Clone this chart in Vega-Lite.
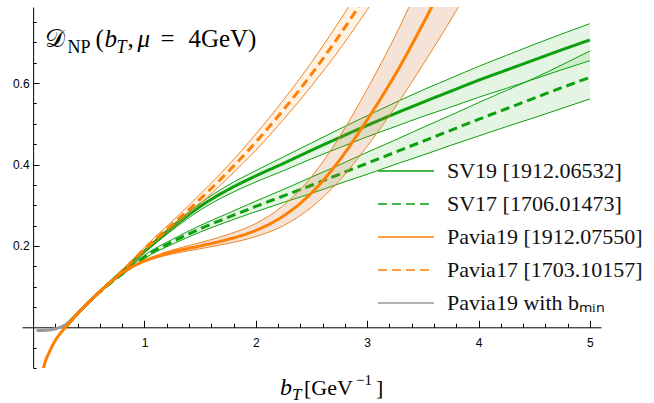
{
"$schema": "https://vega.github.io/schema/vega-lite/v6.json",
"width": 579, "height": 361,
"autosize": {"type": "none"},
"padding": {"left": 22, "top": 7, "right": 53, "bottom": 35},
"background": "white",
"config": {"view": {"stroke": null},
  "axis": {"grid": false, "domainColor": "#000", "tickColor": "#000", "labelFont": "Liberation Sans", "labelFontSize": 12, "labelColor": "#000", "labelFlush": false, "labelOverlap": false, "domainWidth": 1, "tickWidth": 1},
  "legend": {"labelFont": "Liberation Serif", "labelFontSize": 22, "labelColor": "#111", "labelLimit": 400}},
"resolve": {"axis": {"x": "independent", "y": "independent"}},
"datasets": {"curves": [
{"s":"SV19 [1912.06532]","x":0.3,"c":0.003,"lo":0.002,"hi":0.004},
{"s":"SV19 [1912.06532]","x":0.4,"c":0.034,"lo":0.033,"hi":0.035},
{"s":"SV19 [1912.06532]","x":0.5,"c":0.062,"lo":0.061,"hi":0.063},
{"s":"SV19 [1912.06532]","x":0.6,"c":0.088,"lo":0.087,"hi":0.089},
{"s":"SV19 [1912.06532]","x":0.7,"c":0.113,"lo":0.112,"hi":0.114},
{"s":"SV19 [1912.06532]","x":0.8,"c":0.138,"lo":0.136,"hi":0.14},
{"s":"SV19 [1912.06532]","x":0.9,"c":0.162,"lo":0.159,"hi":0.165},
{"s":"SV19 [1912.06532]","x":1,"c":0.187,"lo":0.183,"hi":0.191},
{"s":"SV19 [1912.06532]","x":1.25,"c":0.245,"lo":0.239,"hi":0.251},
{"s":"SV19 [1912.06532]","x":1.5,"c":0.297,"lo":0.288,"hi":0.305},
{"s":"SV19 [1912.06532]","x":1.75,"c":0.338,"lo":0.326,"hi":0.349},
{"s":"SV19 [1912.06532]","x":2,"c":0.372,"lo":0.357,"hi":0.385},
{"s":"SV19 [1912.06532]","x":2.25,"c":0.403,"lo":0.385,"hi":0.419},
{"s":"SV19 [1912.06532]","x":2.5,"c":0.435,"lo":0.414,"hi":0.453},
{"s":"SV19 [1912.06532]","x":2.75,"c":0.466,"lo":0.441,"hi":0.487},
{"s":"SV19 [1912.06532]","x":3,"c":0.496,"lo":0.468,"hi":0.52},
{"s":"SV19 [1912.06532]","x":3.25,"c":0.525,"lo":0.493,"hi":0.552},
{"s":"SV19 [1912.06532]","x":3.5,"c":0.553,"lo":0.518,"hi":0.583},
{"s":"SV19 [1912.06532]","x":3.75,"c":0.58,"lo":0.541,"hi":0.612},
{"s":"SV19 [1912.06532]","x":4,"c":0.607,"lo":0.565,"hi":0.641},
{"s":"SV19 [1912.06532]","x":4.25,"c":0.632,"lo":0.587,"hi":0.668},
{"s":"SV19 [1912.06532]","x":4.5,"c":0.657,"lo":0.61,"hi":0.695},
{"s":"SV19 [1912.06532]","x":4.75,"c":0.682,"lo":0.633,"hi":0.721},
{"s":"SV19 [1912.06532]","x":5,"c":0.706,"lo":0.655,"hi":0.746},
{"s":"SV17 [1706.01473]","x":0.3,"c":0.003,"lo":0.002,"hi":0.004},
{"s":"SV17 [1706.01473]","x":0.4,"c":0.034,"lo":0.033,"hi":0.035},
{"s":"SV17 [1706.01473]","x":0.5,"c":0.062,"lo":0.061,"hi":0.063},
{"s":"SV17 [1706.01473]","x":0.6,"c":0.087,"lo":0.086,"hi":0.088},
{"s":"SV17 [1706.01473]","x":0.7,"c":0.11,"lo":0.109,"hi":0.111},
{"s":"SV17 [1706.01473]","x":0.8,"c":0.131,"lo":0.129,"hi":0.133},
{"s":"SV17 [1706.01473]","x":0.9,"c":0.152,"lo":0.149,"hi":0.155},
{"s":"SV17 [1706.01473]","x":1,"c":0.173,"lo":0.169,"hi":0.177},
{"s":"SV17 [1706.01473]","x":1.25,"c":0.21,"lo":0.204,"hi":0.216},
{"s":"SV17 [1706.01473]","x":1.5,"c":0.242,"lo":0.234,"hi":0.25},
{"s":"SV17 [1706.01473]","x":1.75,"c":0.27,"lo":0.26,"hi":0.28},
{"s":"SV17 [1706.01473]","x":2,"c":0.297,"lo":0.284,"hi":0.31},
{"s":"SV17 [1706.01473]","x":2.25,"c":0.323,"lo":0.307,"hi":0.339},
{"s":"SV17 [1706.01473]","x":2.5,"c":0.349,"lo":0.329,"hi":0.369},
{"s":"SV17 [1706.01473]","x":2.75,"c":0.376,"lo":0.353,"hi":0.399},
{"s":"SV17 [1706.01473]","x":3,"c":0.403,"lo":0.376,"hi":0.43},
{"s":"SV17 [1706.01473]","x":3.25,"c":0.43,"lo":0.4,"hi":0.46},
{"s":"SV17 [1706.01473]","x":3.5,"c":0.457,"lo":0.423,"hi":0.491},
{"s":"SV17 [1706.01473]","x":3.75,"c":0.484,"lo":0.447,"hi":0.521},
{"s":"SV17 [1706.01473]","x":4,"c":0.511,"lo":0.47,"hi":0.552},
{"s":"SV17 [1706.01473]","x":4.25,"c":0.537,"lo":0.493,"hi":0.582},
{"s":"SV17 [1706.01473]","x":4.5,"c":0.563,"lo":0.515,"hi":0.612},
{"s":"SV17 [1706.01473]","x":4.75,"c":0.589,"lo":0.538,"hi":0.645},
{"s":"SV17 [1706.01473]","x":5,"c":0.614,"lo":0.561,"hi":0.679},
{"s":"Pavia19 [1912.07550]","x":0.07,"c":-0.13,"lo":-0.131,"hi":-0.129},
{"s":"Pavia19 [1912.07550]","x":0.1,"c":-0.093,"lo":-0.094,"hi":-0.092},
{"s":"Pavia19 [1912.07550]","x":0.15,"c":-0.058,"lo":-0.059,"hi":-0.057},
{"s":"Pavia19 [1912.07550]","x":0.2,"c":-0.032,"lo":-0.033,"hi":-0.031},
{"s":"Pavia19 [1912.07550]","x":0.25,"c":-0.013,"lo":-0.014,"hi":-0.012},
{"s":"Pavia19 [1912.07550]","x":0.3,"c":0.003,"lo":0.002,"hi":0.004},
{"s":"Pavia19 [1912.07550]","x":0.4,"c":0.034,"lo":0.033,"hi":0.035},
{"s":"Pavia19 [1912.07550]","x":0.5,"c":0.062,"lo":0.061,"hi":0.063},
{"s":"Pavia19 [1912.07550]","x":0.6,"c":0.088,"lo":0.087,"hi":0.089},
{"s":"Pavia19 [1912.07550]","x":0.7,"c":0.112,"lo":0.111,"hi":0.113},
{"s":"Pavia19 [1912.07550]","x":0.8,"c":0.134,"lo":0.133,"hi":0.135},
{"s":"Pavia19 [1912.07550]","x":0.9,"c":0.15,"lo":0.149,"hi":0.151},
{"s":"Pavia19 [1912.07550]","x":1,"c":0.163,"lo":0.161,"hi":0.165},
{"s":"Pavia19 [1912.07550]","x":1.1,"c":0.173,"lo":0.17,"hi":0.176},
{"s":"Pavia19 [1912.07550]","x":1.25,"c":0.185,"lo":0.18,"hi":0.19},
{"s":"Pavia19 [1912.07550]","x":1.5,"c":0.2,"lo":0.193,"hi":0.208},
{"s":"Pavia19 [1912.07550]","x":1.75,"c":0.216,"lo":0.206,"hi":0.228},
{"s":"Pavia19 [1912.07550]","x":2,"c":0.238,"lo":0.223,"hi":0.255},
{"s":"Pavia19 [1912.07550]","x":2.25,"c":0.274,"lo":0.25,"hi":0.3},
{"s":"Pavia19 [1912.07550]","x":2.5,"c":0.33,"lo":0.295,"hi":0.37},
{"s":"Pavia19 [1912.07550]","x":2.75,"c":0.41,"lo":0.36,"hi":0.467},
{"s":"Pavia19 [1912.07550]","x":3,"c":0.51,"lo":0.445,"hi":0.585},
{"s":"Pavia19 [1912.07550]","x":3.25,"c":0.62,"lo":0.54,"hi":0.715},
{"s":"Pavia19 [1912.07550]","x":3.5,"c":0.745,"lo":0.645,"hi":0.86},
{"s":"Pavia19 [1912.07550]","x":3.75,"c":0.88,"lo":0.755,"hi":1.0},
{"s":"Pavia19 [1912.07550]","x":4,"c":1.02,"lo":0.87,"hi":1.15},
{"s":"Pavia17 [1703.10157]","x":0.3,"c":0.003,"lo":0.002,"hi":0.004},
{"s":"Pavia17 [1703.10157]","x":0.4,"c":0.034,"lo":0.033,"hi":0.035},
{"s":"Pavia17 [1703.10157]","x":0.5,"c":0.062,"lo":0.061,"hi":0.063},
{"s":"Pavia17 [1703.10157]","x":0.6,"c":0.088,"lo":0.087,"hi":0.089},
{"s":"Pavia17 [1703.10157]","x":0.7,"c":0.113,"lo":0.111,"hi":0.115},
{"s":"Pavia17 [1703.10157]","x":0.8,"c":0.138,"lo":0.135,"hi":0.141},
{"s":"Pavia17 [1703.10157]","x":0.9,"c":0.165,"lo":0.161,"hi":0.169},
{"s":"Pavia17 [1703.10157]","x":1,"c":0.192,"lo":0.187,"hi":0.197},
{"s":"Pavia17 [1703.10157]","x":1.25,"c":0.253,"lo":0.245,"hi":0.261},
{"s":"Pavia17 [1703.10157]","x":1.5,"c":0.315,"lo":0.303,"hi":0.327},
{"s":"Pavia17 [1703.10157]","x":1.75,"c":0.382,"lo":0.367,"hi":0.397},
{"s":"Pavia17 [1703.10157]","x":2,"c":0.455,"lo":0.435,"hi":0.475},
{"s":"Pavia17 [1703.10157]","x":2.25,"c":0.535,"lo":0.511,"hi":0.559},
{"s":"Pavia17 [1703.10157]","x":2.5,"c":0.622,"lo":0.593,"hi":0.651},
{"s":"Pavia17 [1703.10157]","x":2.75,"c":0.717,"lo":0.682,"hi":0.752},
{"s":"Pavia17 [1703.10157]","x":3,"c":0.82,"lo":0.78,"hi":0.86},
{"s":"Pavia17 [1703.10157]","x":3.25,"c":0.93,"lo":0.885,"hi":0.975},
{"s":"Pavia19 with bₘᵢₙ","x":0.03,"c":-0.008,"lo":-0.008,"hi":-0.008},
{"s":"Pavia19 with bₘᵢₙ","x":0.08,"c":-0.008,"lo":-0.008,"hi":-0.008},
{"s":"Pavia19 with bₘᵢₙ","x":0.13,"c":-0.007,"lo":-0.007,"hi":-0.007},
{"s":"Pavia19 with bₘᵢₙ","x":0.18,"c":-0.005,"lo":-0.005,"hi":-0.005},
{"s":"Pavia19 with bₘᵢₙ","x":0.22,"c":-0.002,"lo":-0.002,"hi":-0.002},
{"s":"Pavia19 with bₘᵢₙ","x":0.26,"c":0.002,"lo":0.002,"hi":0.002},
{"s":"Pavia19 with bₘᵢₙ","x":0.3,"c":0.008,"lo":0.008,"hi":0.008},
{"s":"Pavia19 with bₘᵢₙ","x":0.35,"c":0.021,"lo":0.021,"hi":0.021},
{"s":"Pavia19 with bₘᵢₙ","x":0.4,"c":0.034,"lo":0.034,"hi":0.034},
{"s":"Pavia19 with bₘᵢₙ","x":0.5,"c":0.062,"lo":0.062,"hi":0.062},
{"s":"Pavia19 with bₘᵢₙ","x":0.6,"c":0.088,"lo":0.088,"hi":0.088}
]},
"layer": [
{"data": {"name": "curves"},
 "transform": [{"filter": {"field": "s", "oneOf": ["SV19 [1912.06532]", "SV17 [1706.01473]"]}}],
 "mark": {"type": "area", "interpolate": "monotone", "clip": true, "fill": "#0da00d", "fillOpacity": 0.11},
 "encoding": {
  "x": {"field": "x", "type": "quantitative", "scale": {"domain": [-0.1, 5.1], "nice": false, "zero": false},
        "axis": {"title": null, "orient": "bottom", "offset": -40.7, "format": "~g", "values": [1, 2, 3, 4, 5],
                 "tickSize": -7, "labelPadding": 17}},
  "y": {"field": "lo", "type": "quantitative", "scale": {"domain": [-0.1, 0.787], "nice": false, "zero": false},
        "axis": {"title": null, "orient": "left", "offset": -11.13, "format": "~g", "values": [0.2, 0.4, 0.6],
                 "tickSize": -6, "labelPadding": 10}},
  "y2": {"field": "hi"},
  "detail": {"field": "s"}
 }},
{"data": {"name": "curves"},
 "transform": [{"filter": {"field": "s", "oneOf": ["SV19 [1912.06532]", "SV17 [1706.01473]"]}}],
 "mark": {"type": "line", "interpolate": "monotone", "clip": true, "stroke": "#0da00d", "strokeWidth": 1},
 "encoding": {
  "x": {"field": "x", "type": "quantitative", "scale": {"domain": [-0.1, 5.1], "nice": false, "zero": false},
        "axis": {"title": null, "orient": "bottom", "offset": -40.7, "labels": false, "domain": false,
                 "values": [0.2,0.4,0.6,0.8,1.2,1.4,1.6,1.8,2.2,2.4,2.6,2.8,3.2,3.4,3.6,3.8,4.2,4.4,4.6,4.8], "tickSize": -4}},
  "y": {"field": "lo", "type": "quantitative", "scale": {"domain": [-0.1, 0.787], "nice": false, "zero": false},
        "axis": {"title": null, "orient": "left", "offset": -11.13, "labels": false, "domain": false,
                 "values": [-0.1,-0.05,0.05,0.1,0.15,0.25,0.3,0.35,0.45,0.5,0.55,0.65,0.7,0.75], "tickSize": -3}},
  "detail": {"field": "s"}
 }},
{"data": {"name": "curves"},
 "transform": [{"filter": {"field": "s", "oneOf": ["SV19 [1912.06532]", "SV17 [1706.01473]"]}}],
 "mark": {"type": "line", "interpolate": "monotone", "clip": true, "stroke": "#0da00d", "strokeWidth": 1},
 "encoding": {
  "x": {"field": "x", "type": "quantitative", "scale": {"domain": [-0.1, 5.1], "nice": false, "zero": false}, "axis": null},
  "y": {"field": "hi", "type": "quantitative", "scale": {"domain": [-0.1, 0.787], "nice": false, "zero": false}, "axis": null},
  "detail": {"field": "s"}
 }},
{"data": {"name": "curves"},
 "transform": [{"filter": {"field": "s", "oneOf": ["SV19 [1912.06532]", "SV17 [1706.01473]"]}}],
 "mark": {"type": "line", "interpolate": "monotone", "clip": true, "strokeWidth": 3},
 "encoding": {
  "x": {"field": "x", "type": "quantitative", "scale": {"domain": [-0.1, 5.1], "nice": false, "zero": false}, "axis": null},
  "y": {"field": "c", "type": "quantitative", "scale": {"domain": [-0.1, 0.787], "nice": false, "zero": false}, "axis": null},
  "color": {"field": "s", "type": "nominal",
            "scale": {"domain": ["SV19 [1912.06532]", "SV17 [1706.01473]", "Pavia19 [1912.07550]", "Pavia17 [1703.10157]", "Pavia19 with bₘᵢₙ"], "range": ["#0da00d", "#0da00d", "#ff8000", "#ff8000", "#999999"]},
            "legend": {"title": null, "orient": "none", "legendX": 355, "legendY": 153, "symbolType": "stroke", "symbolSize": 3136, "symbolStrokeWidth": 1.5, "labelFont": "Liberation Serif", "labelFontSize": 22, "labelColor": "#111", "clipHeight": 22, "rowPadding": 11, "labelOffset": 12, "padding": 0, "labelLimit": 400, "encode": {"symbols": {"update": {"strokeWidth": {"value": 1.5}}}}}},
  "strokeDash": {"field": "s", "type": "nominal",
            "scale": {"domain": ["SV19 [1912.06532]", "SV17 [1706.01473]", "Pavia19 [1912.07550]", "Pavia17 [1703.10157]", "Pavia19 with bₘᵢₙ"], "range": [[1, 0], [9, 5], [1, 0], [9, 5], [1, 0]]},
            "legend": {"title": null, "orient": "none", "legendX": 355, "legendY": 153, "symbolType": "stroke", "symbolSize": 3136, "symbolStrokeWidth": 1.5, "labelFont": "Liberation Serif", "labelFontSize": 22, "labelColor": "#111", "clipHeight": 22, "rowPadding": 11, "labelOffset": 12, "padding": 0, "labelLimit": 400, "encode": {"symbols": {"update": {"strokeWidth": {"value": 1.5}}}}}}
 }},
{"data": {"name": "curves"},
 "transform": [{"filter": {"field": "s", "equal": "Pavia19 with bₘᵢₙ"}}],
 "mark": {"type": "line", "interpolate": "monotone", "clip": true, "strokeWidth": 3},
 "encoding": {
  "x": {"field": "x", "type": "quantitative", "scale": {"domain": [-0.1, 5.1], "nice": false, "zero": false}, "axis": null},
  "y": {"field": "c", "type": "quantitative", "scale": {"domain": [-0.1, 0.787], "nice": false, "zero": false}, "axis": null},
  "color": {"field": "s", "type": "nominal"},
  "strokeDash": {"field": "s", "type": "nominal"}
 }},
{"data": {"name": "curves"},
 "transform": [{"filter": {"field": "s", "equal": "Pavia19 [1912.07550]"}}],
 "mark": {"type": "area", "interpolate": "monotone", "clip": true, "fill": "#c87533", "fillOpacity": 0.2},
 "encoding": {
  "x": {"field": "x", "type": "quantitative", "scale": {"domain": [-0.1, 5.1], "nice": false, "zero": false}, "axis": null},
  "y": {"field": "lo", "type": "quantitative", "scale": {"domain": [-0.1, 0.787], "nice": false, "zero": false}, "axis": null},
  "y2": {"field": "hi"}
 }},
{"data": {"name": "curves"},
 "transform": [{"filter": {"field": "s", "equal": "Pavia17 [1703.10157]"}}],
 "mark": {"type": "area", "interpolate": "monotone", "clip": true, "fill": "#ff8000", "fillOpacity": 0.1},
 "encoding": {
  "x": {"field": "x", "type": "quantitative", "scale": {"domain": [-0.1, 5.1], "nice": false, "zero": false}, "axis": null},
  "y": {"field": "lo", "type": "quantitative", "scale": {"domain": [-0.1, 0.787], "nice": false, "zero": false}, "axis": null},
  "y2": {"field": "hi"}
 }},
{"data": {"name": "curves"},
 "transform": [{"filter": {"field": "s", "oneOf": ["Pavia19 [1912.07550]", "Pavia17 [1703.10157]"]}}],
 "mark": {"type": "line", "interpolate": "monotone", "clip": true, "stroke": "#f08524", "strokeWidth": 1},
 "encoding": {
  "x": {"field": "x", "type": "quantitative", "scale": {"domain": [-0.1, 5.1], "nice": false, "zero": false}, "axis": null},
  "y": {"field": "lo", "type": "quantitative", "scale": {"domain": [-0.1, 0.787], "nice": false, "zero": false}, "axis": null},
  "detail": {"field": "s"}
 }},
{"data": {"name": "curves"},
 "transform": [{"filter": {"field": "s", "oneOf": ["Pavia19 [1912.07550]", "Pavia17 [1703.10157]"]}}],
 "mark": {"type": "line", "interpolate": "monotone", "clip": true, "stroke": "#f08524", "strokeWidth": 1},
 "encoding": {
  "x": {"field": "x", "type": "quantitative", "scale": {"domain": [-0.1, 5.1], "nice": false, "zero": false}, "axis": null},
  "y": {"field": "hi", "type": "quantitative", "scale": {"domain": [-0.1, 0.787], "nice": false, "zero": false}, "axis": null},
  "detail": {"field": "s"}
 }},
{"data": {"name": "curves"},
 "transform": [{"filter": {"field": "s", "oneOf": ["Pavia19 [1912.07550]", "Pavia17 [1703.10157]"]}}],
 "mark": {"type": "line", "interpolate": "monotone", "clip": true, "strokeWidth": 3},
 "encoding": {
  "x": {"field": "x", "type": "quantitative", "scale": {"domain": [-0.1, 5.1], "nice": false, "zero": false}, "axis": null},
  "y": {"field": "c", "type": "quantitative", "scale": {"domain": [-0.1, 0.787], "nice": false, "zero": false}, "axis": null},
  "color": {"field": "s", "type": "nominal"},
  "strokeDash": {"field": "s", "type": "nominal"}
 }},
{"data": {"values": [{"x": 0.11, "y": 0.689, "t": "𝒟"}]},
 "mark": {"type": "text", "font": "Liberation Serif", "fontSize": 25, "align": "left", "baseline": "alphabetic", "color": "#000"},
 "encoding": {"x": {"field": "x", "type": "quantitative", "scale": {"domain": [-0.1, 5.1], "nice": false, "zero": false}, "axis": null},
              "y": {"field": "y", "type": "quantitative", "scale": {"domain": [-0.1, 0.787], "nice": false, "zero": false}, "axis": null},
              "text": {"field": "t"}}},
{"data": {"values": [{"x": 0.11, "y": 0.689, "t": "NP"}]},
 "mark": {"type": "text", "font": "Liberation Serif", "fontSize": 18, "align": "left", "baseline": "alphabetic", "dx": 22, "dy": 6, "color": "#000"},
 "encoding": {"x": {"field": "x", "type": "quantitative", "scale": {"domain": [-0.1, 5.1], "nice": false, "zero": false}, "axis": null},
              "y": {"field": "y", "type": "quantitative", "scale": {"domain": [-0.1, 0.787], "nice": false, "zero": false}, "axis": null},
              "text": {"field": "t"}}},
{"data": {"values": [{"x": 0.11, "y": 0.689, "t": "("}]},
 "mark": {"type": "text", "font": "Liberation Serif", "fontSize": 25, "align": "left", "baseline": "alphabetic", "dx": 50, "color": "#000"},
 "encoding": {"x": {"field": "x", "type": "quantitative", "scale": {"domain": [-0.1, 5.1], "nice": false, "zero": false}, "axis": null},
              "y": {"field": "y", "type": "quantitative", "scale": {"domain": [-0.1, 0.787], "nice": false, "zero": false}, "axis": null},
              "text": {"field": "t"}}},
{"data": {"values": [{"x": 0.11, "y": 0.689, "t": "b"}]},
 "mark": {"type": "text", "font": "Liberation Serif", "fontStyle": "italic", "fontSize": 25, "align": "left", "baseline": "alphabetic", "dx": 59, "color": "#000"},
 "encoding": {"x": {"field": "x", "type": "quantitative", "scale": {"domain": [-0.1, 5.1], "nice": false, "zero": false}, "axis": null},
              "y": {"field": "y", "type": "quantitative", "scale": {"domain": [-0.1, 0.787], "nice": false, "zero": false}, "axis": null},
              "text": {"field": "t"}}},
{"data": {"values": [{"x": 0.11, "y": 0.689, "t": "T"}]},
 "mark": {"type": "text", "font": "Liberation Serif", "fontStyle": "italic", "fontSize": 18, "align": "left", "baseline": "alphabetic", "dx": 71, "dy": 6, "color": "#000"},
 "encoding": {"x": {"field": "x", "type": "quantitative", "scale": {"domain": [-0.1, 5.1], "nice": false, "zero": false}, "axis": null},
              "y": {"field": "y", "type": "quantitative", "scale": {"domain": [-0.1, 0.787], "nice": false, "zero": false}, "axis": null},
              "text": {"field": "t"}}},
{"data": {"values": [{"x": 0.11, "y": 0.689, "t": ","}]},
 "mark": {"type": "text", "font": "Liberation Serif", "fontSize": 25, "align": "left", "baseline": "alphabetic", "dx": 82, "color": "#000"},
 "encoding": {"x": {"field": "x", "type": "quantitative", "scale": {"domain": [-0.1, 5.1], "nice": false, "zero": false}, "axis": null},
              "y": {"field": "y", "type": "quantitative", "scale": {"domain": [-0.1, 0.787], "nice": false, "zero": false}, "axis": null},
              "text": {"field": "t"}}},
{"data": {"values": [{"x": 0.11, "y": 0.689, "t": "μ"}]},
 "mark": {"type": "text", "font": "Liberation Serif", "fontStyle": "italic", "fontSize": 25, "align": "left", "baseline": "alphabetic", "dx": 92, "color": "#000"},
 "encoding": {"x": {"field": "x", "type": "quantitative", "scale": {"domain": [-0.1, 5.1], "nice": false, "zero": false}, "axis": null},
              "y": {"field": "y", "type": "quantitative", "scale": {"domain": [-0.1, 0.787], "nice": false, "zero": false}, "axis": null},
              "text": {"field": "t"}}},
{"data": {"values": [{"x": 0.11, "y": 0.689, "t": "="}]},
 "mark": {"type": "text", "font": "Liberation Serif", "fontSize": 25, "align": "left", "baseline": "alphabetic", "dx": 115, "color": "#000"},
 "encoding": {"x": {"field": "x", "type": "quantitative", "scale": {"domain": [-0.1, 5.1], "nice": false, "zero": false}, "axis": null},
              "y": {"field": "y", "type": "quantitative", "scale": {"domain": [-0.1, 0.787], "nice": false, "zero": false}, "axis": null},
              "text": {"field": "t"}}},
{"data": {"values": [{"x": 0.11, "y": 0.689, "t": "4GeV)"}]},
 "mark": {"type": "text", "font": "Liberation Serif", "fontSize": 25, "align": "left", "baseline": "alphabetic", "dx": 143, "color": "#000"},
 "encoding": {"x": {"field": "x", "type": "quantitative", "scale": {"domain": [-0.1, 5.1], "nice": false, "zero": false}, "axis": null},
              "y": {"field": "y", "type": "quantitative", "scale": {"domain": [-0.1, 0.787], "nice": false, "zero": false}, "axis": null},
              "text": {"field": "t"}}},
{"data": {"values": [{"x": 2.217, "y": -0.166, "t": "b"}]},
 "mark": {"type": "text", "font": "Liberation Serif", "fontStyle": "italic", "fontSize": 24, "align": "left", "baseline": "alphabetic", "color": "#000"},
 "encoding": {"x": {"field": "x", "type": "quantitative", "scale": {"domain": [-0.1, 5.1], "nice": false, "zero": false}, "axis": null},
              "y": {"field": "y", "type": "quantitative", "scale": {"domain": [-0.1, 0.787], "nice": false, "zero": false}, "axis": null},
              "text": {"field": "t"}}},
{"data": {"values": [{"x": 2.217, "y": -0.166, "t": "T"}]},
 "mark": {"type": "text", "font": "Liberation Serif", "fontStyle": "italic", "fontSize": 17, "align": "left", "baseline": "alphabetic", "dx": 12, "dy": 5, "color": "#000"},
 "encoding": {"x": {"field": "x", "type": "quantitative", "scale": {"domain": [-0.1, 5.1], "nice": false, "zero": false}, "axis": null},
              "y": {"field": "y", "type": "quantitative", "scale": {"domain": [-0.1, 0.787], "nice": false, "zero": false}, "axis": null},
              "text": {"field": "t"}}},
{"data": {"values": [{"x": 2.217, "y": -0.166, "t": "[GeV"}]},
 "mark": {"type": "text", "font": "Liberation Serif", "fontSize": 22, "align": "left", "baseline": "alphabetic", "dx": 24, "color": "#000"},
 "encoding": {"x": {"field": "x", "type": "quantitative", "scale": {"domain": [-0.1, 5.1], "nice": false, "zero": false}, "axis": null},
              "y": {"field": "y", "type": "quantitative", "scale": {"domain": [-0.1, 0.787], "nice": false, "zero": false}, "axis": null},
              "text": {"field": "t"}}},
{"data": {"values": [{"x": 2.217, "y": -0.166, "t": "−1"}]},
 "mark": {"type": "text", "font": "Liberation Serif", "fontSize": 15, "align": "left", "baseline": "alphabetic", "dx": 76, "dy": -10, "color": "#000"},
 "encoding": {"x": {"field": "x", "type": "quantitative", "scale": {"domain": [-0.1, 5.1], "nice": false, "zero": false}, "axis": null},
              "y": {"field": "y", "type": "quantitative", "scale": {"domain": [-0.1, 0.787], "nice": false, "zero": false}, "axis": null},
              "text": {"field": "t"}}},
{"data": {"values": [{"x": 2.217, "y": -0.166, "t": "]"}]},
 "mark": {"type": "text", "font": "Liberation Serif", "fontSize": 22, "align": "left", "baseline": "alphabetic", "dx": 96, "color": "#000"},
 "encoding": {"x": {"field": "x", "type": "quantitative", "scale": {"domain": [-0.1, 5.1], "nice": false, "zero": false}, "axis": null},
              "y": {"field": "y", "type": "quantitative", "scale": {"domain": [-0.1, 0.787], "nice": false, "zero": false}, "axis": null},
              "text": {"field": "t"}}}
]
}
